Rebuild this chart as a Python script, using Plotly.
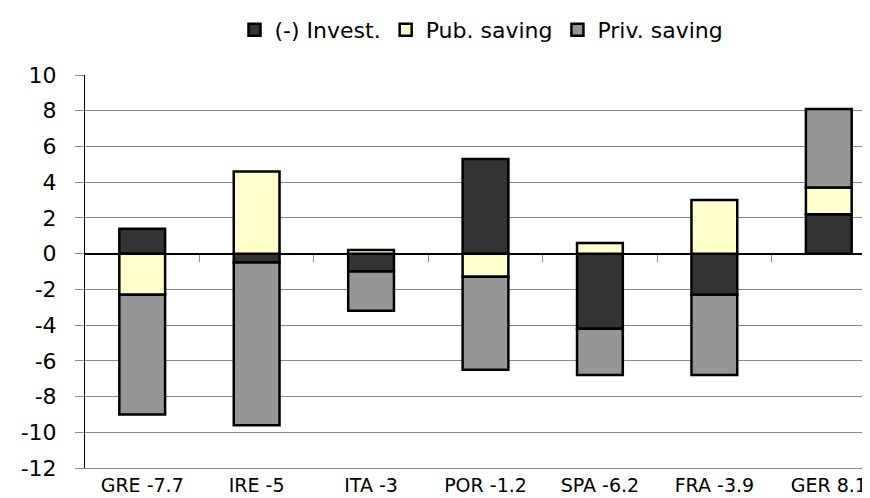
import plotly.graph_objects as go

# values
countries = ["GRE -7.7", "IRE -5", "ITA -3", "POR -1.2", "SPA -6.2", "FRA -3.9", "GER 8.1"]
invest = [1.4, -0.5, -1.0, 5.3, -4.2, -2.3, 2.2]
pub_saving = [-2.3, 4.6, 0.2, -1.3, 0.6, 3.0, 1.5]
priv_saving = [-6.7, -9.1, -2.2, -5.2, -2.6, -4.5, 4.4]

y_ticks = list(range(-12, 11, 2))
y_min, y_max = -12, 10

FONT = "DejaVu Sans"
GRID = "#8a8a8a"

fig = go.Figure()

series = [
    ("(-) Invest.", invest, "#333333"),
    ("Pub. saving", pub_saving, "#FFFFCC"),
    ("Priv. saving", priv_saving, "#969696"),
]
for name, vals, color in series:
    fig.add_trace(go.Bar(
        x=countries,
        y=vals,
        name=name,
        width=0.4,
        marker=dict(color=color, line=dict(color="black", width=2.5)),
    ))

# dummy trace so the category-separator axis on the zero line gets drawn
fig.add_trace(go.Scatter(x=[None], y=[None], xaxis="x2", showlegend=False, hoverinfo="skip"))

n = len(countries)
x_range = [-0.5, -0.5 + 793 / (801 / n)]  # right end of the plot is cut off in the reference
boundaries = [i + 0.5 for i in range(n - 1)]

fig.update_layout(
    width=870,
    height=498,
    barmode="relative",
    plot_bgcolor="white",
    paper_bgcolor="white",
    margin=dict(l=77, r=0, t=67, b=38),
    font=dict(family=FONT, color="black"),
    legend=dict(
        orientation="h",
        x=0.5,
        xanchor="center",
        y=1.1145,
        yanchor="middle",
        font=dict(size=22, family=FONT),
        traceorder="normal",
    ),
    xaxis=dict(
        type="category",
        range=x_range,
        showgrid=False,
        zeroline=False,
        showline=True,
        linecolor=GRID,
        linewidth=1,
        ticks="",
        tickfont=dict(size=19, family=FONT),
        ticklabelstandoff=0,
    ),
    xaxis2=dict(
        overlaying="x",
        anchor="free",
        position=(0 - y_min) / (y_max - y_min),
        range=x_range,
        tickvals=boundaries,
        ticks="outside",
        ticklen=7,
        tickcolor=GRID,
        tickwidth=1,
        showticklabels=False,
        showgrid=False,
        showline=False,
        zeroline=False,
    ),
    yaxis=dict(
        range=[y_min, y_max],
        tickvals=y_ticks,
        ticktext=[str(v) for v in y_ticks],
        showgrid=True,
        gridcolor=GRID,
        gridwidth=1,
        zeroline=True,
        zerolinecolor="black",
        zerolinewidth=1.5,
        showline=True,
        linecolor="black",
        linewidth=1,
        ticks="outside",
        ticklen=9,
        tickcolor=GRID,
        tickfont=dict(size=22, family=FONT),
        ticklabelstandoff=14,
    ),
)

fig.write_html("out.html")
